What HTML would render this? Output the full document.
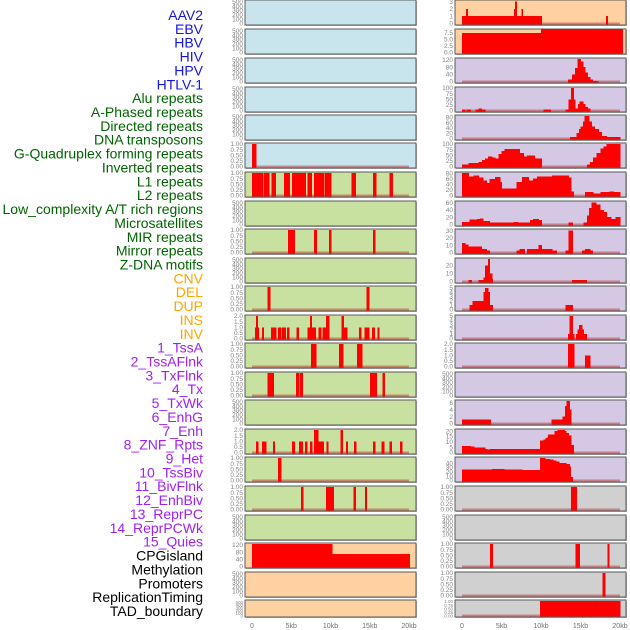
<!DOCTYPE html>
<html><head><meta charset="utf-8"><style>
html,body{margin:0;padding:0;background:#fff;width:630px;height:630px;overflow:hidden}
svg{display:block;font-family:"Liberation Sans",sans-serif}
</style></head><body>
<svg id="chart" width="630" height="630" viewBox="0 0 630 630"></svg>
<script>
// ---- data (segments: [startKb, endKb, value]) ----
const trackLabels = ["AAV2","EBV","HBV","HIV","HPV","HTLV-1","Alu repeats","A-Phased repeats","Directed repeats","DNA transposons","G-Quadruplex forming repeats","Inverted repeats","L1 repeats","L2 repeats","Low_complexity A/T rich regions","Microsatellites","MIR repeats","Mirror repeats","Z-DNA motifs","CNV","DEL","DUP","INS","INV","1_TssA","2_TssAFlnk","3_TxFlnk","4_Tx","5_TxWk","6_EnhG","7_Enh","8_ZNF_Rpts","9_Het","10_TssBiv","11_BivFlnk","12_EnhBiv","13_ReprPC","14_ReprPCWk","15_Quies","CPGisland","Methylation","Promoters","ReplicationTiming","TAD_boundary"];
const labelGroups = [0,0,0,0,0,0,1,1,1,1,1,1,1,1,1,1,1,1,1,2,2,2,2,2,3,3,3,3,3,3,3,3,3,3,3,3,3,3,3,4,4,4,4,4];
const xTickLabels = ["0","5kb","10kb","15kb","20kb"];
const xTickValues = [0,5,10,15,20];

const L6 = [[0,0.5,1]];
const L7 = [[0,1.4,1],[1.5,2.2,1],[2.5,3.0,1],[4.1,4.8,1],[5.1,6.8,1],[7.1,7.6,1],[7.9,9.2,1],[9.3,10.1,1],[12.7,13.2,1],[15.4,15.8,1],[17.5,17.9,1]];
const L9 = [[4.6,5.4,1],[7.9,8.2,1],[9.8,10.1,1],[15.4,15.7,1]];
const L11 = [[2.0,2.3,1],[14.6,14.9,1]];
const L12 = [[0.4,0.5,1],[0.5,0.7,2],[0.7,0.85,1],[1.3,1.5,1],[2.4,3.1,1],[3.3,3.7,1],[3.8,4.3,1],[4.45,4.7,1],[5.7,5.95,1],[7.1,7.4,1],[7.4,7.6,2],[7.6,8.1,1],[8.5,8.8,1],[9.0,9.4,1],[9.4,9.8,2],[11.4,11.7,2],[11.7,12.1,1],[13.6,13.9,1],[14.3,14.9,1],[15.3,15.6,1],[16.0,16.2,1]];
const L13 = [[7.5,8.15,1],[11.1,11.6,1],[13.4,14.0,1]];
const L14 = [[2.0,2.75,1],[5.6,6.0,1],[6.1,6.45,1],[15.0,15.9,1],[16.6,16.9,1]];
const L16 = [[0.5,0.75,1],[1.3,1.8,1],[2.7,2.9,1],[5.1,5.45,1],[6.0,6.45,1],[6.75,7.0,1],[7.4,7.65,1],[7.9,8.4,2],[8.5,9.1,1],[9.5,9.7,1],[11.3,11.55,2],[12.0,12.2,1],[13.0,13.25,1],[15.4,15.7,1],[16.5,16.8,1],[17.5,17.8,1],[18.85,19.1,1]];
const L17 = [[3.3,3.7,1]];
const L18 = [[6.25,6.5,1],[9.4,10.4,1],[12.95,13.2,1],[14.4,14.6,1]];
const L20 = [[0,10.2,125],[10.2,20.1,70]];

const R1 = [[0,10.1,1],[0.5,0.7,2],[6.7,6.9,3],[6.6,6.7,2],[7.5,7.7,2],[18.2,18.45,1]];
const R2 = [[0,10,7.4],[10,20.3,9.3]];
const R3 = [[13.4,13.9,10],[13.9,14.3,40],[14.3,14.6,75],[14.6,15.0,125],[15.0,15.3,110],[15.3,15.6,80],[15.6,15.9,50],[15.9,16.2,25],[16.2,16.5,10],[16.5,17.2,4]];
const R4 = [[0,0.4,5],[0.6,1.1,5],[1.7,2.1,5],[2.1,2.5,10],[2.5,2.9,5],[10.3,11.2,5],[13.1,13.5,5],[13.5,13.8,50],[13.8,14.1,100],[14.1,14.3,50],[14.3,14.7,10],[14.7,14.9,30],[14.9,15.3,40],[15.3,15.6,30],[15.6,15.9,15],[15.9,16.2,8]];
const R5 = [[13.7,14.5,5],[14.5,14.8,20],[14.8,15.0,35],[15.0,15.3,45],[15.3,15.5,65],[15.5,16.1,85],[16.1,16.4,65],[16.4,16.8,45],[16.8,17.3,35],[17.3,17.7,25],[17.7,18.3,10],[18.3,20.0,5]];
const R6 = [[0,0.8,8],[0.8,2.1,15],[2.1,2.5,20],[2.5,2.9,30],[2.9,3.3,35],[3.3,3.8,45],[3.8,4.2,40],[4.2,4.6,35],[4.6,5.0,55],[5.0,5.4,70],[5.4,7.3,78],[7.3,7.8,60],[7.8,8.2,45],[8.2,9.2,50],[9.2,10.1,35],[15.8,16.2,8],[16.2,16.6,20],[16.6,17.0,40],[17.0,17.5,60],[17.5,17.9,80],[17.9,18.3,90],[18.3,20.0,100]];
const R7 = [[0,0.85,82],[0.85,1.45,70],[1.45,2.1,72],[2.1,2.7,65],[2.7,3.1,55],[3.1,3.5,45],[3.5,4.2,60],[4.2,4.8,68],[4.8,5.0,50],[5.0,6.9,25],[6.9,7.6,50],[7.6,8.4,68],[8.4,9.0,55],[9.0,9.5,62],[9.5,11.4,70],[11.4,13.5,72],[13.5,13.8,65],[13.8,14.1,15],[15.6,16.6,12],[16.6,17.5,8],[17.5,18.7,12],[18.7,19.2,15],[19.2,20.0,12]];
const R8 = [[0,0.95,7],[0.95,1.9,14],[1.9,2.3,15],[2.3,2.7,17],[2.7,3.5,10],[3.5,6.5,5],[6.5,7.1,7],[7.1,8.6,5],[8.6,9.0,12],[9.0,9.7,15],[9.7,10.1,12],[13.5,14.0,5],[15.4,15.8,5],[15.8,16.1,25],[16.1,16.4,45],[16.4,17.0,60],[17.0,17.5,55],[17.5,17.9,40],[17.9,18.3,35],[18.3,18.9,20],[18.9,19.4,15],[19.4,20.0,20]];
const R9 = [[0,0.4,13],[0.4,0.8,11],[0.8,2.5,8],[2.5,3.1,5],[3.1,3.5,3],[6.9,7.3,3],[7.3,7.9,5],[8.2,9.7,5],[9.7,10.1,10],[10.1,11.4,5],[11.4,12.0,3],[13.1,13.5,3],[13.5,14.0,30],[15.2,15.6,3],[15.6,16.2,5],[16.2,16.5,3]];
const R10 = [[0.8,1.2,2],[2.1,2.7,2],[2.7,2.9,5],[2.9,3.3,20],[3.3,3.5,28],[3.5,3.8,10],[3.8,3.9,3],[13.9,15.8,2]];
const R11 = [[0.95,1.3,1],[1.3,2.7,2],[2.7,2.9,4],[2.9,3.3,5],[3.3,3.5,4],[3.5,3.9,1],[13.1,14.0,1]];
const R12 = [[13.4,13.6,1],[13.6,14.0,5],[14.0,14.2,1],[14.4,14.6,1],[14.6,14.8,2],[14.8,15.2,3],[15.2,15.4,2],[15.4,15.8,1]];
const R13 = [[13.4,14.2,2],[15.6,16.2,1]];
const R15 = [[0,3.65,1.2],[11.3,12.7,1.2],[12.7,13.05,2],[13.05,13.2,5],[13.2,13.6,6.5],[13.6,13.8,4]];
const R16 = [[0,1.1,6],[1.1,1.5,5.5],[1.5,2.9,4.5],[2.9,3.2,3.5],[3.2,3.5,3],[3.5,9.9,3.5],[9.9,10.3,11],[10.3,10.6,12],[10.6,10.8,13.5],[10.8,10.9,15],[10.9,11.7,17],[11.7,12.1,20],[12.1,13.0,21],[13.0,13.2,20],[13.2,13.5,18],[13.5,13.8,16],[13.8,14.1,7]];
const R17 = [[0,3.8,25],[3.8,5.3,27],[5.3,7.6,26],[7.6,9.9,24],[9.9,10.5,52],[10.5,11.1,50],[11.1,11.5,48],[11.5,11.9,46],[11.9,12.3,44],[12.3,13.2,40],[13.2,13.6,38],[13.6,13.75,32],[13.75,14.0,8]];
const R18 = [[13.8,14.5,1]];
const R20 = [[3.55,3.9,1],[14.35,14.9,1],[18.4,18.6,1]];
const R21 = [[17.8,18.1,1]];
const R22 = [[9.9,20.0,1]];

// ---- layout ----
const rowTops = [0,29,58,87,115,143,172,201,229,258,286,315,343,372,400,429,457,486,515,543,572,600];
const BG = {b:"#c8e4ec",g:"#c8e0a0",o:"#ffd0a0",p:"#d4c8e4",y:"#d0d0d0"};
const E = null;
const T500 = [[0,"0"],[100,"100"],[200,"200"],[300,"300"],[400,"400"],[500,"500"]];
const T1 = [[0,"0.00"],[0.25,"0.25"],[0.5,"0.50"],[0.75,"0.75"],[1,"1.00"]];
const T2 = [[0,"0.0"],[0.5,"0.5"],[1,"1.0"],[1.5,"1.5"],[2,"2.0"]];
function tk(vals){return vals.map(v=>[v,String(v)]);}
const leftPanels = [
 ["b",E,T500,520],["b",E,T500,520],["b",E,T500,520],["b",E,T500,520],["b",E,T500,520],
 ["b",L6,T1,1],["g",L7,T1,1],["g",E,T500,520],["g",L9,T1,1],["g",E,T500,520],
 ["g",L11,T1,1],["g",L12,T2,2],["g",L13,T1,1],["g",L14,T1,1],["g",E,T500,520],
 ["g",L16,T2,2],["g",L17,T1,1],["g",L18,T1,1],["g",E,T500,520],["o",L20,tk([0,40,80,120]),125],
 ["o",E,T500,520],["o",E,T500,520]];
const rightPanels = [
 ["o",R1,tk([0,1,2,3]),3.1],["o",R2,[[0,"0.0"],[2.5,"2.5"],[5,"5.0"],[7.5,"7.5"]],8.5],
 ["p",R3,tk([0,40,80,120]),125],["p",R4,tk([0,25,50,75,100]),100],["p",R5,tk([0,20,40,60,80]),85],
 ["p",R6,tk([0,25,50,75,100]),100],["p",R7,tk([0,20,40,60,80]),82],["p",R8,tk([0,20,40,60]),62],
 ["p",R9,tk([0,10,20,30]),31],["p",R10,tk([0,10,20]),28],["p",R11,tk([0,1,2,3,4,5]),5.2],
 ["p",R12,tk([0,1,2,3,4,5]),5],["p",R13,T2,2],["p",E,T500,520],["p",R15,tk([0,2,4,6]),6.5],
 ["p",R16,tk([0,5,10,15,20]),21],["p",R17,tk([0,10,20,30,40]),52],["y",R18,T1,1],
 ["y",E,T500,520],["y",R20,T1,1],["y",R21,T1,1],["y",R22,T1,1]];

const svg = document.getElementById('chart');
const NS = "http://www.w3.org/2000/svg";
function mk(tag, attrs, parent){const e=document.createElementNS(NS,tag);for(const k in attrs)e.setAttribute(k,attrs[k]);(parent||svg).appendChild(e);return e;}

const cols = [{x:245,w:171,x0:252,s:7.85},{x:455,w:171,x0:462,s:7.9}];
[leftPanels,rightPanels].forEach((panels,ci)=>{
  const c = cols[ci];
  const xs = kb => c.x0 + kb*c.s;
  panels.forEach((p,ri)=>{
    const top = rowTops[ri], h = ri===21 ? 17 : 25, bottom = top+h;
    const [bg,segs,ticks,D] = p;
    const ys = v => Math.max(top, bottom-1.5 - v/D*(h-2.5));
    const g = mk('g',{});
    
    
    mk('rect',{x:c.x+1,y:top+1,width:c.w,height:h,fill:'#b8b8b8'},g);
    mk('rect',{x:c.x,y:top,width:c.w,height:h,fill:BG[bg],stroke:'#5a5a5a','stroke-width':1},g);
    ticks.forEach(([v,lab])=>{
      const t = mk('text',{x:c.x-2,y:ys(v)+2.2,'font-size':h<20?4.5:6.5,'text-anchor':'end',fill:'#858585'},g);
      
      
      t.textContent = lab;
    });
    if(segs){
      const bl = mk('rect',{x:xs(0),y:bottom-2.5,width:xs(20)-xs(0),height:2,fill:'rgba(190,30,30,0.45)'},g);
      
      
      segs.forEach(s=>{
        const y = ys(s[2]);
        const r = mk('rect',{x:xs(s[0]),y:y,width:Math.max(1,xs(s[1])-xs(s[0])+0.4),height:bottom-0.5-y,fill:'#ff0000','shape-rendering':'crispEdges'},g);
        
        
      });
    }
  });
  xTickValues.forEach((v,i)=>{
    const t = mk('text',{x:xs(v),y:628,'font-size':7,'text-anchor':'middle',fill:'#707070'});
    
    
    t.textContent = xTickLabels[i];
  });
});

const gColors = ["#1515e0","#006400","#ffa500","#a020f0","#000000"];
trackLabels.forEach((lab,i)=>{
  const t = mk('text',{x:203,y:20+i*13.86,'font-size':14,'text-anchor':'end',fill:gColors[labelGroups[i]]});
  
  
  t.textContent = lab;
});
</script>
</body></html>
